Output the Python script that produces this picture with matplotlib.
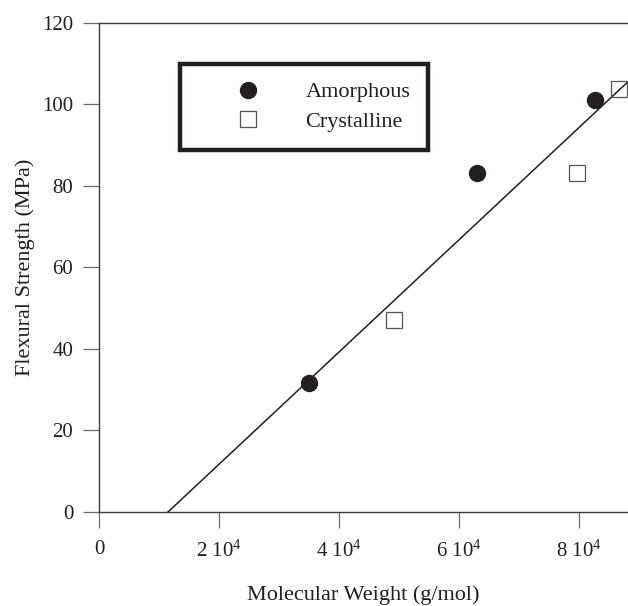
import matplotlib
matplotlib.use("Agg")
import matplotlib.pyplot as plt

plt.rcParams['font.family'] = ['Liberation Serif', 'DejaVu Serif']
plt.rcParams['mathtext.fontset'] = 'custom'
plt.rcParams['mathtext.rm'] = 'Liberation Serif'
plt.rcParams['mathtext.it'] = 'Liberation Serif:italic'

# ------------------ datos ------------------
amorph_mw = [35000, 63000, 82700]
amorph_strength = [31.6, 83.2, 101.1]

cryst_mw = [49200, 79700, 86700]
cryst_strength = [47.0, 83.2, 103.7]

# recta de ajuste (extremos)
fit_mw = [11500, 88000]
fit_strength = [0, 105.3]

x_ticks = [0, 20000, 40000, 60000, 80000]
x_tick_labels = ['0', r'2 10$^4$', r'4 10$^4$', r'6 10$^4$', r'8 10$^4$']
y_ticks = [0, 20, 40, 60, 80, 100, 120]

ink = '#231f20'
axis_col = '#3c3c3c'

fig = plt.figure(figsize=(6.28, 6.06), dpi=100)
ax = fig.add_axes([0.1576, 0.1551, 1 - 0.1576, 0.9625 - 0.1551])

ax.plot(fit_mw, fit_strength, color=ink, lw=1.1, zorder=2)
ax.plot(amorph_mw, amorph_strength, 'o', ms=11.5, color=ink, mec=ink,
        label='Amorphous', zorder=3)
ax.plot(cryst_mw, cryst_strength, 's', ms=11.5, mfc='none', mec='#555555',
        mew=0.9, label='Crystalline', zorder=3)

ax.set_xlim(0, 88170)
ax.set_ylim(0, 120)
ax.set_xticks(x_ticks)
ax.set_xticklabels(x_tick_labels)
ax.set_yticks(y_ticks)

for s in ['left', 'bottom', 'top']:
    ax.spines[s].set_color(axis_col)
    ax.spines[s].set_linewidth(1.0)
ax.spines['right'].set_visible(False)

ax.tick_params(axis='both', direction='out', length=11.5, width=0.9,
               color='#6a6a6a', labelsize=15, labelcolor=ink)
ax.tick_params(axis='x', pad=9)
ax.tick_params(axis='y', pad=7)

ax.set_xlabel('Molecular Weight (g/mol)', fontsize=16, color=ink, labelpad=17)
ax.set_ylabel('Flexural Strength (MPa)', fontsize=16, color=ink, labelpad=5)

leg = ax.legend(loc='upper left', bbox_to_anchor=(0.153, 0.9156),
                numpoints=1, fontsize=16, frameon=True, fancybox=False,
                framealpha=1, borderpad=0.8, labelspacing=0.4,
                handlelength=4.5, handletextpad=0.35, borderaxespad=0)
leg.get_frame().set_edgecolor(ink)
leg.get_frame().set_linewidth(3.2)
for t in leg.get_texts():
    t.set_color(ink)

fig.savefig('out.png', dpi=100)
